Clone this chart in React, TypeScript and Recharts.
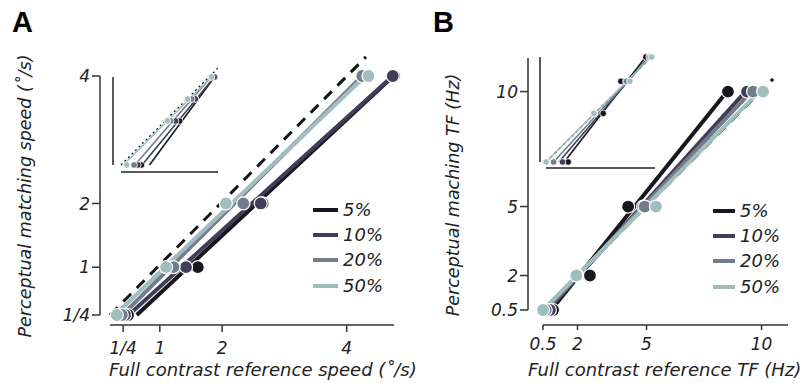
import { ComposedChart, ReferenceLine, Scatter, XAxis, YAxis } from 'recharts'

const FONT = "'DejaVu Sans', 'Liberation Sans', Arial, sans-serif"
const BOLD_FONT = "'Liberation Sans', Arial, Helvetica, sans-serif"
const LEVELS = ['5%', '10%', '20%', '50%']
const COLORS = ['#17171f', '#3f3d58', '#717c8c', '#a0bebe']
const AXIS = '#333'
const TEXT = '#222'

// A: speed, deg/s
const speedMatch = [4, 2, 1, 0.25]
const speedRef5 = [4.76, 2.65, 1.61, 0.49]
const speedRef10 = [4.74, 2.62, 1.42, 0.44]
const speedRef20 = [4.25, 2.34, 1.22, 0.39]
const speedRef50 = [4.35, 2.06, 1.1, 0.31]
const speedFitLo = [0.63, 0.5, 0.4, 0.28] // x where fit meets y = 1/4
const speedFitHi = [4.75, 4.74, 4.25, 4.3] // x where fit meets y = 4
const speedFitY = [0.25, 4]
const speedUnity = [0.2, 0.25, 4.31, 4.3]
const speedTicksX = [0.41, 1, 2, 4]
const speedTicksY = [0.25, 1, 2, 4]
const speedInsetTicksX = [1, 2, 4]

// B: temporal frequency, Hz
const tfMatch = [10, 5, 2, 0.5]
const tfRef5 = [8.54, 4.2, 2.54, 0.94]
const tfRef10 = [9.37, 4.85, 1.98, 0.8]
const tfRef20 = [9.63, 4.92, 1.98, 0.62]
const tfRef50 = [10.07, 5.41, 1.95, 0.5]
const tfFitLo = [0.9, 0.72, 0.62, 0.5]
const tfFitLoY = [0.55, 0.5, 0.5, 0.5]
const tfFitHi = [8.5, 9.3, 9.55, 9.9]
const tfUnity = [0.5, 0.5, 10.5, 10.55]
const tfTicks = [0.5, 2, 5, 10]
const tfInsetTicksX = [2, 5, 10]

const speedLabel = (v: number) => (v < 0.5 ? '1/4' : String(v))

const pts = (xs: number[], ys: number[]) => xs.map((x, i) => ({ x, y: ys[i] }))

const speedPoints = [speedRef5, speedRef10, speedRef20, speedRef50].map((r) => pts(r, speedMatch))
const speedFits = speedFitLo.map((lo, i) => pts([lo, speedFitHi[i]], speedFitY))
const tfPoints = [tfRef5, tfRef10, tfRef20, tfRef50].map((r) => pts(r, tfMatch))
const tfFits = tfFitLo.map((lo, i) => pts([lo, tfFitHi[i]], [tfFitLoY[i], 10]))

const tickStyle = { fill: TEXT, fontSize: 17, fontStyle: 'italic', fontFamily: FONT }

function Series({ fits, points, r, lw, sw }: any) {
  return (
    <>
      {fits.map((f: any, i: number) => (
        <Scatter
          key={'f' + i}
          xAxisId="x"
          yAxisId="y"
          data={f}
          line={{ stroke: COLORS[i], strokeWidth: lw }}
          shape={() => <g />}
          isAnimationActive={false}
        />
      ))}
      {points.map((p: any, i: number) => (
        <Scatter
          key={'p' + i}
          xAxisId="x"
          yAxisId="y"
          data={p}
          shape={(s: any) => <circle cx={s.cx} cy={s.cy} r={r} fill={COLORS[i]} stroke="#fff" strokeWidth={sw} />}
          isAnimationActive={false}
        />
      ))}
    </>
  )
}

function MainChart(props: any) {
  const { left, width, top, right, gap, yWidth, xDomain, yDomain, xTicks, yTicks, fmt, unity, fits, points, xTickSize, xTickMargin } = props
  return (
    <div style={{ position: 'absolute', left, top: 0 }}>
      <ComposedChart width={width} height={383} margin={{ top, right, bottom: 0, left: 0 }}>
        <XAxis xAxisId="gap" dataKey="x" type="number" domain={xDomain} height={gap} axisLine={false} tickLine={false} tick={false} />
        <XAxis
          xAxisId="x"
          dataKey="x"
          type="number"
          domain={xDomain}
          ticks={xTicks}
          interval={0}
          tickFormatter={fmt}
          height={58}
          stroke={AXIS}
          strokeWidth={1.5}
          tickSize={xTickSize}
          tickMargin={xTickMargin}
          tick={tickStyle}
        />
        <YAxis yAxisId="gap" dataKey="y" type="number" domain={yDomain} width={gap} axisLine={false} tickLine={false} tick={false} />
        <YAxis
          yAxisId="y"
          dataKey="y"
          type="number"
          domain={yDomain}
          ticks={yTicks}
          interval={0}
          tickFormatter={fmt}
          width={yWidth}
          stroke={AXIS}
          strokeWidth={1.5}
          tickSize={8}
          tickMargin={2}
          tick={tickStyle}
        />
        <ReferenceLine
          xAxisId="x"
          yAxisId="y"
          segment={[{ x: unity[0], y: unity[1] }, { x: unity[2], y: unity[3] }]}
          stroke="#151515"
          strokeWidth={3}
          strokeDasharray="11 8"
          ifOverflow="visible"
        />
        {Series({ fits, points, r: 6.5, lw: 4, sw: 1.2 })}
      </ComposedChart>
    </div>
  )
}

function Inset(props: any) {
  const { left, top, width, height, mTop, gapX, gapY, yWidth, xDomain, yDomain, xTicks, yTicks, unity, dash, fits, points } = props
  return (
    <div style={{ position: 'absolute', left, top }}>
      <ComposedChart width={width} height={height} margin={{ top: mTop, right: 4, bottom: 0, left: 0 }}>
        <XAxis xAxisId="gap" dataKey="x" type="number" scale="log" domain={xDomain} height={gapX} axisLine={false} tickLine={false} tick={false} />
        <XAxis xAxisId="x" dataKey="x" type="number" scale="log" domain={xDomain} ticks={xTicks} interval={0} height={10} stroke="#222" strokeWidth={1.5} tickSize={-4} tick={false} />
        <YAxis yAxisId="gap" dataKey="y" type="number" scale="log" domain={yDomain} width={gapY} axisLine={false} tickLine={false} tick={false} />
        <YAxis yAxisId="y" dataKey="y" type="number" scale="log" domain={yDomain} ticks={yTicks} interval={0} width={yWidth} stroke="#222" strokeWidth={1.5} tickSize={-4} tick={false} />
        <ReferenceLine
          xAxisId="x"
          yAxisId="y"
          segment={[{ x: unity[0], y: unity[1] }, { x: unity[2], y: unity[3] }]}
          stroke="#151515"
          strokeWidth={1.3}
          strokeDasharray={dash}
          ifOverflow="visible"
        />
        {Series({ fits, points, r: 3.3, lw: 1.6, sw: 0.8 })}
      </ComposedChart>
    </div>
  )
}

function Legend({ left, top, lineW }: { left: number; top: number; lineW: number }) {
  return (
    <div style={{ position: 'absolute', left, top, fontFamily: FONT }}>
      {LEVELS.map((l, i) => (
        <div key={l} style={{ display: 'flex', alignItems: 'center', height: 25.4 }}>
          <div style={{ width: lineW, height: 4, background: COLORS[i] }} />
          <span style={{ marginLeft: 5, fontSize: 18, fontStyle: 'italic', color: TEXT, lineHeight: '20px' }}>{l}</span>
        </div>
      ))}
    </div>
  )
}

const titleStyle: any = {
  position: 'absolute',
  fontFamily: FONT,
  fontStyle: 'italic',
  fontSize: 17.5,
  color: TEXT,
  whiteSpace: 'nowrap',
  lineHeight: '20px',
}

const letterStyle: any = {
  position: 'absolute',
  fontFamily: BOLD_FONT,
  fontWeight: 'bold',
  fontSize: 29,
  lineHeight: '29px',
  color: '#000',
}

export default function App() {
  return (
    <div style={{ position: 'absolute', left: 0, top: 0, width: 812, height: 383, background: '#fff', overflow: 'hidden' }}>
      <MainChart
        left={0}
        width={410}
        top={76}
        right={16}
        gap={10}
        yWidth={100}
        xDomain={[0.2, 4.76]}
        yDomain={[0.25, 4]}
        xTicks={speedTicksX}
        yTicks={speedTicksY}
        fmt={speedLabel}
        unity={speedUnity}
        fits={speedFits}
        points={speedPoints}
        xTickSize={7}
        xTickMargin={10}
      />
      <Inset
        left={100}
        top={60}
        width={122}
        height={122}
        mTop={17}
        gapX={7}
        gapY={8}
        yWidth={13}
        xDomain={[0.26, 5.3]}
        yDomain={[0.25, 4]}
        xTicks={speedInsetTicksX}
        yTicks={speedTicksY}
        unity={[0.26, 0.25, 5.3, 5.3]}
        dash="2 3"
        fits={speedFits}
        points={speedPoints}
      />
      <MainChart
        left={410}
        width={402}
        top={58}
        right={24}
        gap={15}
        yWidth={118}
        xDomain={[0.5, 11.15]}
        yDomain={[0.5, 11.46]}
        xTicks={tfTicks}
        yTicks={tfTicks}
        fmt={(v: number) => String(v)}
        unity={tfUnity}
        fits={tfFits}
        points={tfPoints}
        xTickSize={5}
        xTickMargin={8}
      />
      <Inset
        left={533}
        top={45}
        width={126}
        height={133}
        mTop={12}
        gapX={6}
        gapY={6}
        yWidth={7}
        xDomain={[0.5, 11.07]}
        yDomain={[0.5, 10]}
        xTicks={tfInsetTicksX}
        yTicks={tfTicks}
        unity={[0.5, 0.5, 10, 10]}
        dash="3 3"
        fits={tfFits}
        points={tfPoints}
      />
      <Legend left={313} top={197} lineW={25} />
      <Legend left={713} top={198} lineW={22} />
      <div style={{ ...letterStyle, left: 12, top: 8 }}>A</div>
      <div style={{ ...letterStyle, left: 433, top: 8 }}>B</div>
      <div style={{ ...titleStyle, left: 25, top: 196, transform: 'translate(-50%, -50%) rotate(-90deg)' }}>
        Perceptual matching speed (˚/s)
      </div>
      <div style={{ ...titleStyle, fontSize: 18, left: 109, top: 360 }}>Full contrast reference speed (˚/s)</div>
      <div style={{ ...titleStyle, left: 453, top: 195, transform: 'translate(-50%, -50%) rotate(-90deg)' }}>
        Perceptual maching TF (Hz)
      </div>
      <div style={{ ...titleStyle, fontSize: 18, left: 528, top: 360 }}>Full contrast reference TF (Hz)</div>
    </div>
  )
}
